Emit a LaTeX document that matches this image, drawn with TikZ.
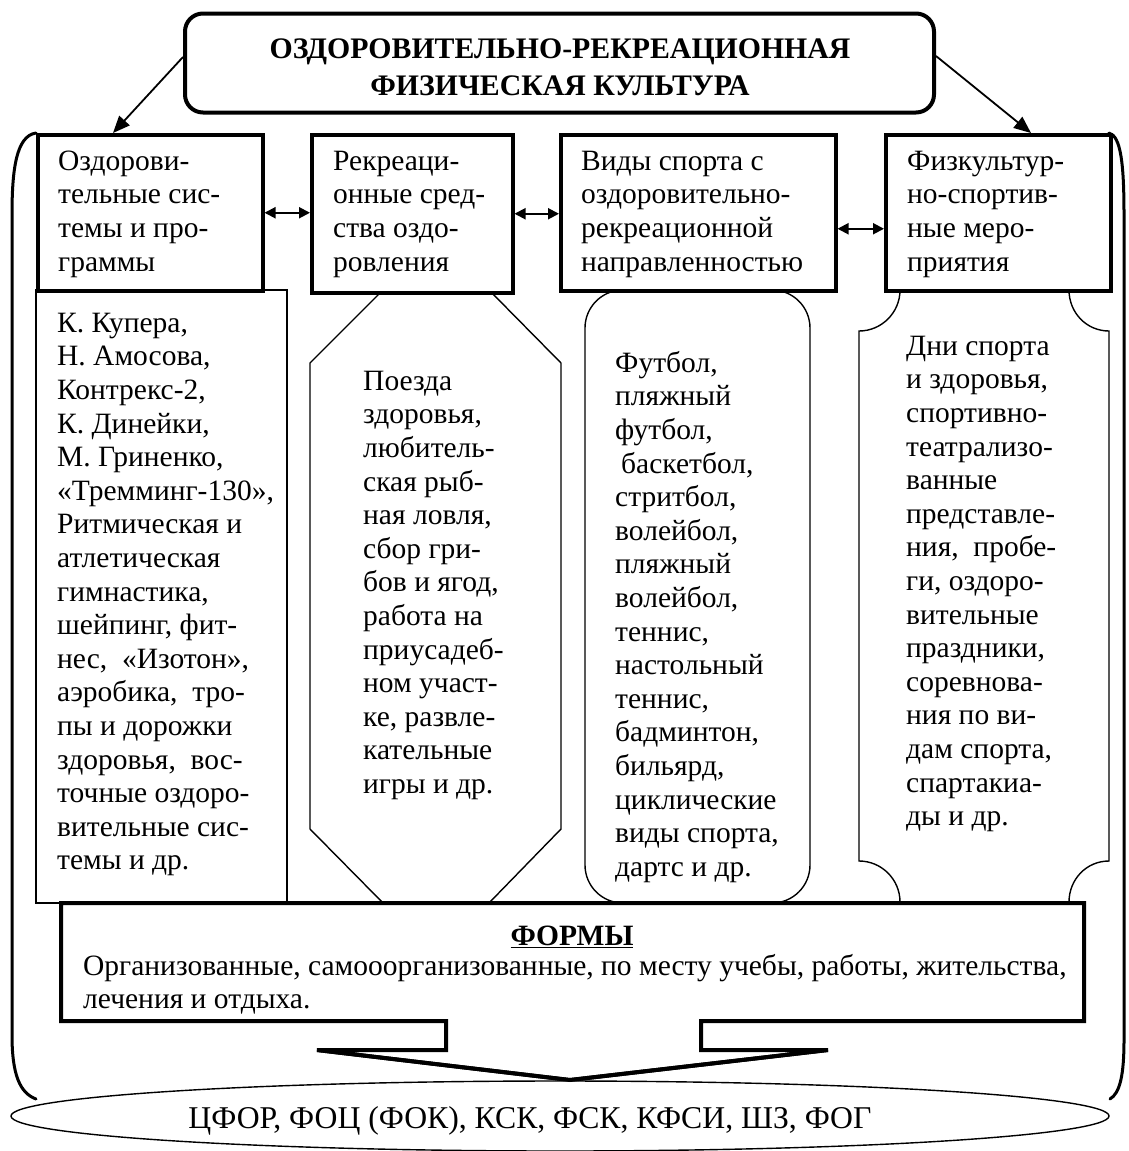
\documentclass[tikz,border=0pt]{standalone}
\usepackage{fontspec}
\setmainfont{Liberation Serif}
\usetikzlibrary{arrows.meta,shapes.geometric,calc}
\newcommand\bodyfnt{\fontsize{29.5}{33.6}\selectfont}
\newcommand\fls{\rule{0pt}{28pt}}
\begin{document}
\begin{tikzpicture}[x=1pt,y=-1pt,
  hdr/.style={draw,line width=3.5pt,fill=white,rectangle,anchor=north west,inner sep=0pt},
  txt/.style={anchor=north west,align=left,inner sep=0pt,font=\bodyfnt},
  thinline/.style={line width=1.4pt},
  dbl/.style={line width=2pt,{Triangle[length=11pt,width=11pt]}-{Triangle[length=11pt,width=11pt]}},
  sarrow/.style={line width=1.8pt,-{Triangle[length=17pt,width=14pt]}},
  bracket/.style={line width=3pt,line cap=round}
]
\useasboundingbox (0,0) rectangle (1128,1151);

% brackets
\draw[bracket] (36,133) .. controls (16,136) and (12,170) .. (12,215) -- (12,1035) .. controls (12,1075) and (20,1093) .. (36,1099);
\draw[bracket] (1109,133) .. controls (1121,136) and (1124,165) .. (1124,215) -- (1124,1040) .. controls (1124,1075) and (1120,1093) .. (1110,1099);

% bodies
\draw[thinline] (36,290) rectangle (287,903);
\draw[thinline] (383,290) -- (489,290) -- (561,363) -- (561,829) -- (489,903) -- (383,903) -- (310,829) -- (310,363) -- cycle;
\draw[thinline,rounded corners=38pt] (585,290) rectangle (810,903);
\draw[thinline] (859,331) -- (859,861)
  .. controls (881.6,861) and (900,879.4) .. (900,902) -- (1069,902)
  .. controls (1069,879.4) and (1086.4,861) .. (1109,861) -- (1109,331)
  .. controls (1086.4,331) and (1069,312.6) .. (1069,290) -- (900,290)
  .. controls (900,312.6) and (881.6,331) .. cycle;

% headers
\node[hdr,minimum width=225,minimum height=156] (h1) at (36,133) {};
\node[hdr,minimum width=201,minimum height=158] (h2) at (310,133) {};
\node[hdr,minimum width=275,minimum height=156] (h3) at (559,133) {};
\node[hdr,minimum width=225,minimum height=156] (h4) at (884,133) {};

% title box and text
\node[draw,line width=4pt,rounded corners=18pt,minimum width=749,minimum height=99,fill=white] (title) at (559.5,63) {};
\node[anchor=north,align=center,inner sep=0pt,font=\fontsize{29.8}{37}\selectfont\bfseries] (titletext) at (560,30)
  {\fls ОЗДОРОВИТЕЛЬНО-РЕКРЕАЦИОННАЯ\\ФИЗИЧЕСКАЯ КУЛЬТУРА};

% forms callout
\draw[line width=4pt,fill=white,line join=miter] (61,903) -- (1084,903) -- (1084,1021) -- (701,1021) -- (701,1050) -- (828,1050) -- (570,1080) -- (317,1050) -- (446,1050) -- (446,1021) -- (61,1021) -- cycle;

% ellipse
\node[draw,ellipse,line width=1.4pt,fill=white,minimum width=1098,minimum height=70,inner sep=0pt] (places) at (560,1116) {};
\node[anchor=base,inner sep=0pt,font=\fontsize{31.7}{34}\selectfont] (placestext) at (530,1128) {ЦФОР, ФОЦ (ФОК), КСК, ФСК, КФСИ, ШЗ, ФОГ};
\draw[line width=4pt,line join=miter] (317,1050) -- (570,1080) -- (828,1050);

% arrows
\coordinate (a1) at (113,133);
\coordinate (a2) at (1031,133);
\draw[sarrow] ([yshift=6pt]title.west) -- (a1);
\draw[sarrow] ([yshift=7pt]title.east) -- (a2);
\draw[dbl] (h1.east) -- (h1.east -| h2.west);
\draw[dbl] (h2.east) -- (h2.east -| h3.west);
\draw[dbl] ([yshift=-16pt]h3.east) -- ([yshift=-16pt]h3.east -| h4.west);

% header texts (first baseline 170)
\node[txt] (t1) at (58,142) {\fls Оздорови-\\тельные сис-\\темы и про-\\граммы};
\node[txt] (t2) at (333,142) {\fls Рекреаци-\\онные сред-\\ства оздо-\\ровления};
\node[txt] (t3) at (581,142) {\fls Виды спорта с\\оздоровительно-\\рекреационной\\направленностью};
\node[txt] (t4) at (907,142) {\fls Физкультур-\\но-спортив-\\ные меро-\\приятия};

% body texts
\node[txt] (b1) at (57,304) {\fls К. Купера,\\Н. Амосова,\\Контрекс-2,\\К. Динейки,\\М. Гриненко,\\«Тремминг-130»,\\Ритмическая и\\атлетическая\\гимнастика,\\шейпинг, фит-\\нес,\ \ «Изотон»,\\аэробика,\ \ тро-\\пы и дорожки\\здоровья,\ \ вос-\\точные оздоро-\\вительные сис-\\темы и др.};
\node[txt] (b2) at (363,362) {\fls Поезда\\здоровья,\\любитель-\\ская рыб-\\ная ловля,\\сбор гри-\\бов и ягод,\\работа на\\приусадеб-\\ном участ-\\ке, развле-\\кательные\\игры и др.};
\node[txt] (b3) at (615,344) {\fls Футбол,\\пляжный\\футбол,\\\hspace*{6pt}баскетбол,\\стритбол,\\волейбол,\\пляжный\\волейбол,\\теннис,\\настольный\\теннис,\\бадминтон,\\бильярд,\\циклические\\виды спорта,\\дартс и др.};
\node[txt] (b4) at (906,327) {\fls Дни спорта\\и здоровья,\\спортивно-\\театрализо-\\ванные\\представле-\\ния,\ \ пробе-\\ги, оздоро-\\вительные\\праздники,\\соревнова-\\ния по ви-\\дам спорта,\\спартакиа-\\ды и др.};

% forms texts
\node[anchor=base,inner sep=0pt,font=\bodyfnt\bfseries] (fh) at (572,945) {\underline{ФОРМЫ}};
\node[txt,font=\fontsize{29.5}{33}\selectfont] (ft) at (83,947) {\fls Организованные, самооорганизованные, по месту учебы, работы, жительства,\\лечения и отдыха.};
\end{tikzpicture}
\end{document}
